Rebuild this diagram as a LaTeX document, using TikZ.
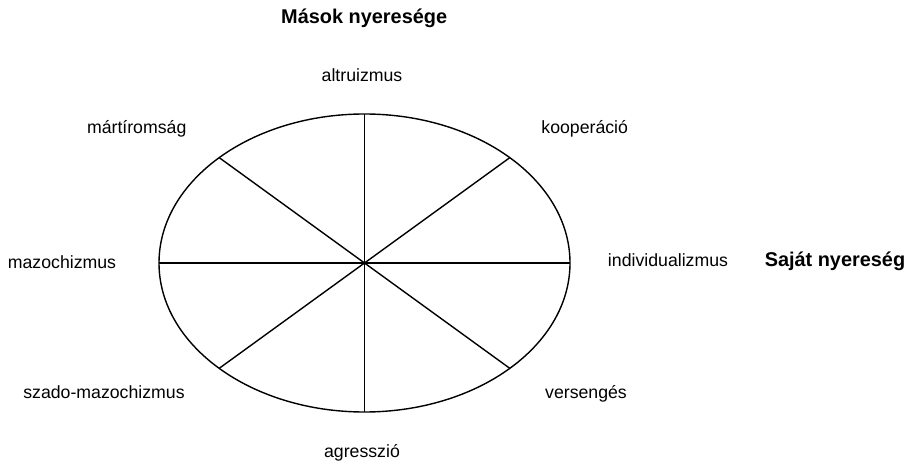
\documentclass[tikz,border=0pt]{standalone}
\usepackage{fontspec}
\setmainfont{Liberation Sans}
\usetikzlibrary{calc}
\begin{document}
\begin{tikzpicture}[x=1pt,y=-1pt,
  lbl/.style={anchor=base,inner sep=0pt,font=\fontsize{17.7}{20}\selectfont},
  ttl/.style={anchor=base,inner sep=0pt,font=\fontsize{19.9}{22}\selectfont\bfseries},
  wheel/.style={line width=1.4pt,black}]
\useasboundingbox (0,0) rectangle (910,462);
\coordinate (c) at (364.5,263);
\draw[wheel] (c) ellipse [x radius=205.5, y radius=149];
\foreach \a [count=\i] in {0,45,...,315}{
  \coordinate (p\i) at ($(c)+({205.5*cos(\a)},{-149*sin(\a)})$);
}
\draw[wheel] (p1) -- (p5);
\draw[wheel] (p2) -- (p6);
\draw[wheel] (p3) -- (p7);
\draw[wheel] (p4) -- (p8);
\node[ttl] (mn) at (364.2,24) {Mások nyeresége};
\node[ttl] (sn) at (835,266.7) {Saját nyereség};
\node[lbl] (alt) at (362,81.7) {altruizmus};
\node[lbl] (koo) at (584.7,134) {kooperáció};
\node[lbl] (ind) at (668,266.7) {individualizmus};
\node[lbl] (ver) at (586,398.3) {versengés};
\node[lbl] (agr) at (362,457.7) {agresszió};
\node[lbl] (szm) at (104,398.3) {szado-mazochizmus};
\node[lbl] (maz) at (62,268.3) {mazochizmus};
\node[lbl] (mar) at (136.7,134) {mártíromság};
\end{tikzpicture}
\end{document}
